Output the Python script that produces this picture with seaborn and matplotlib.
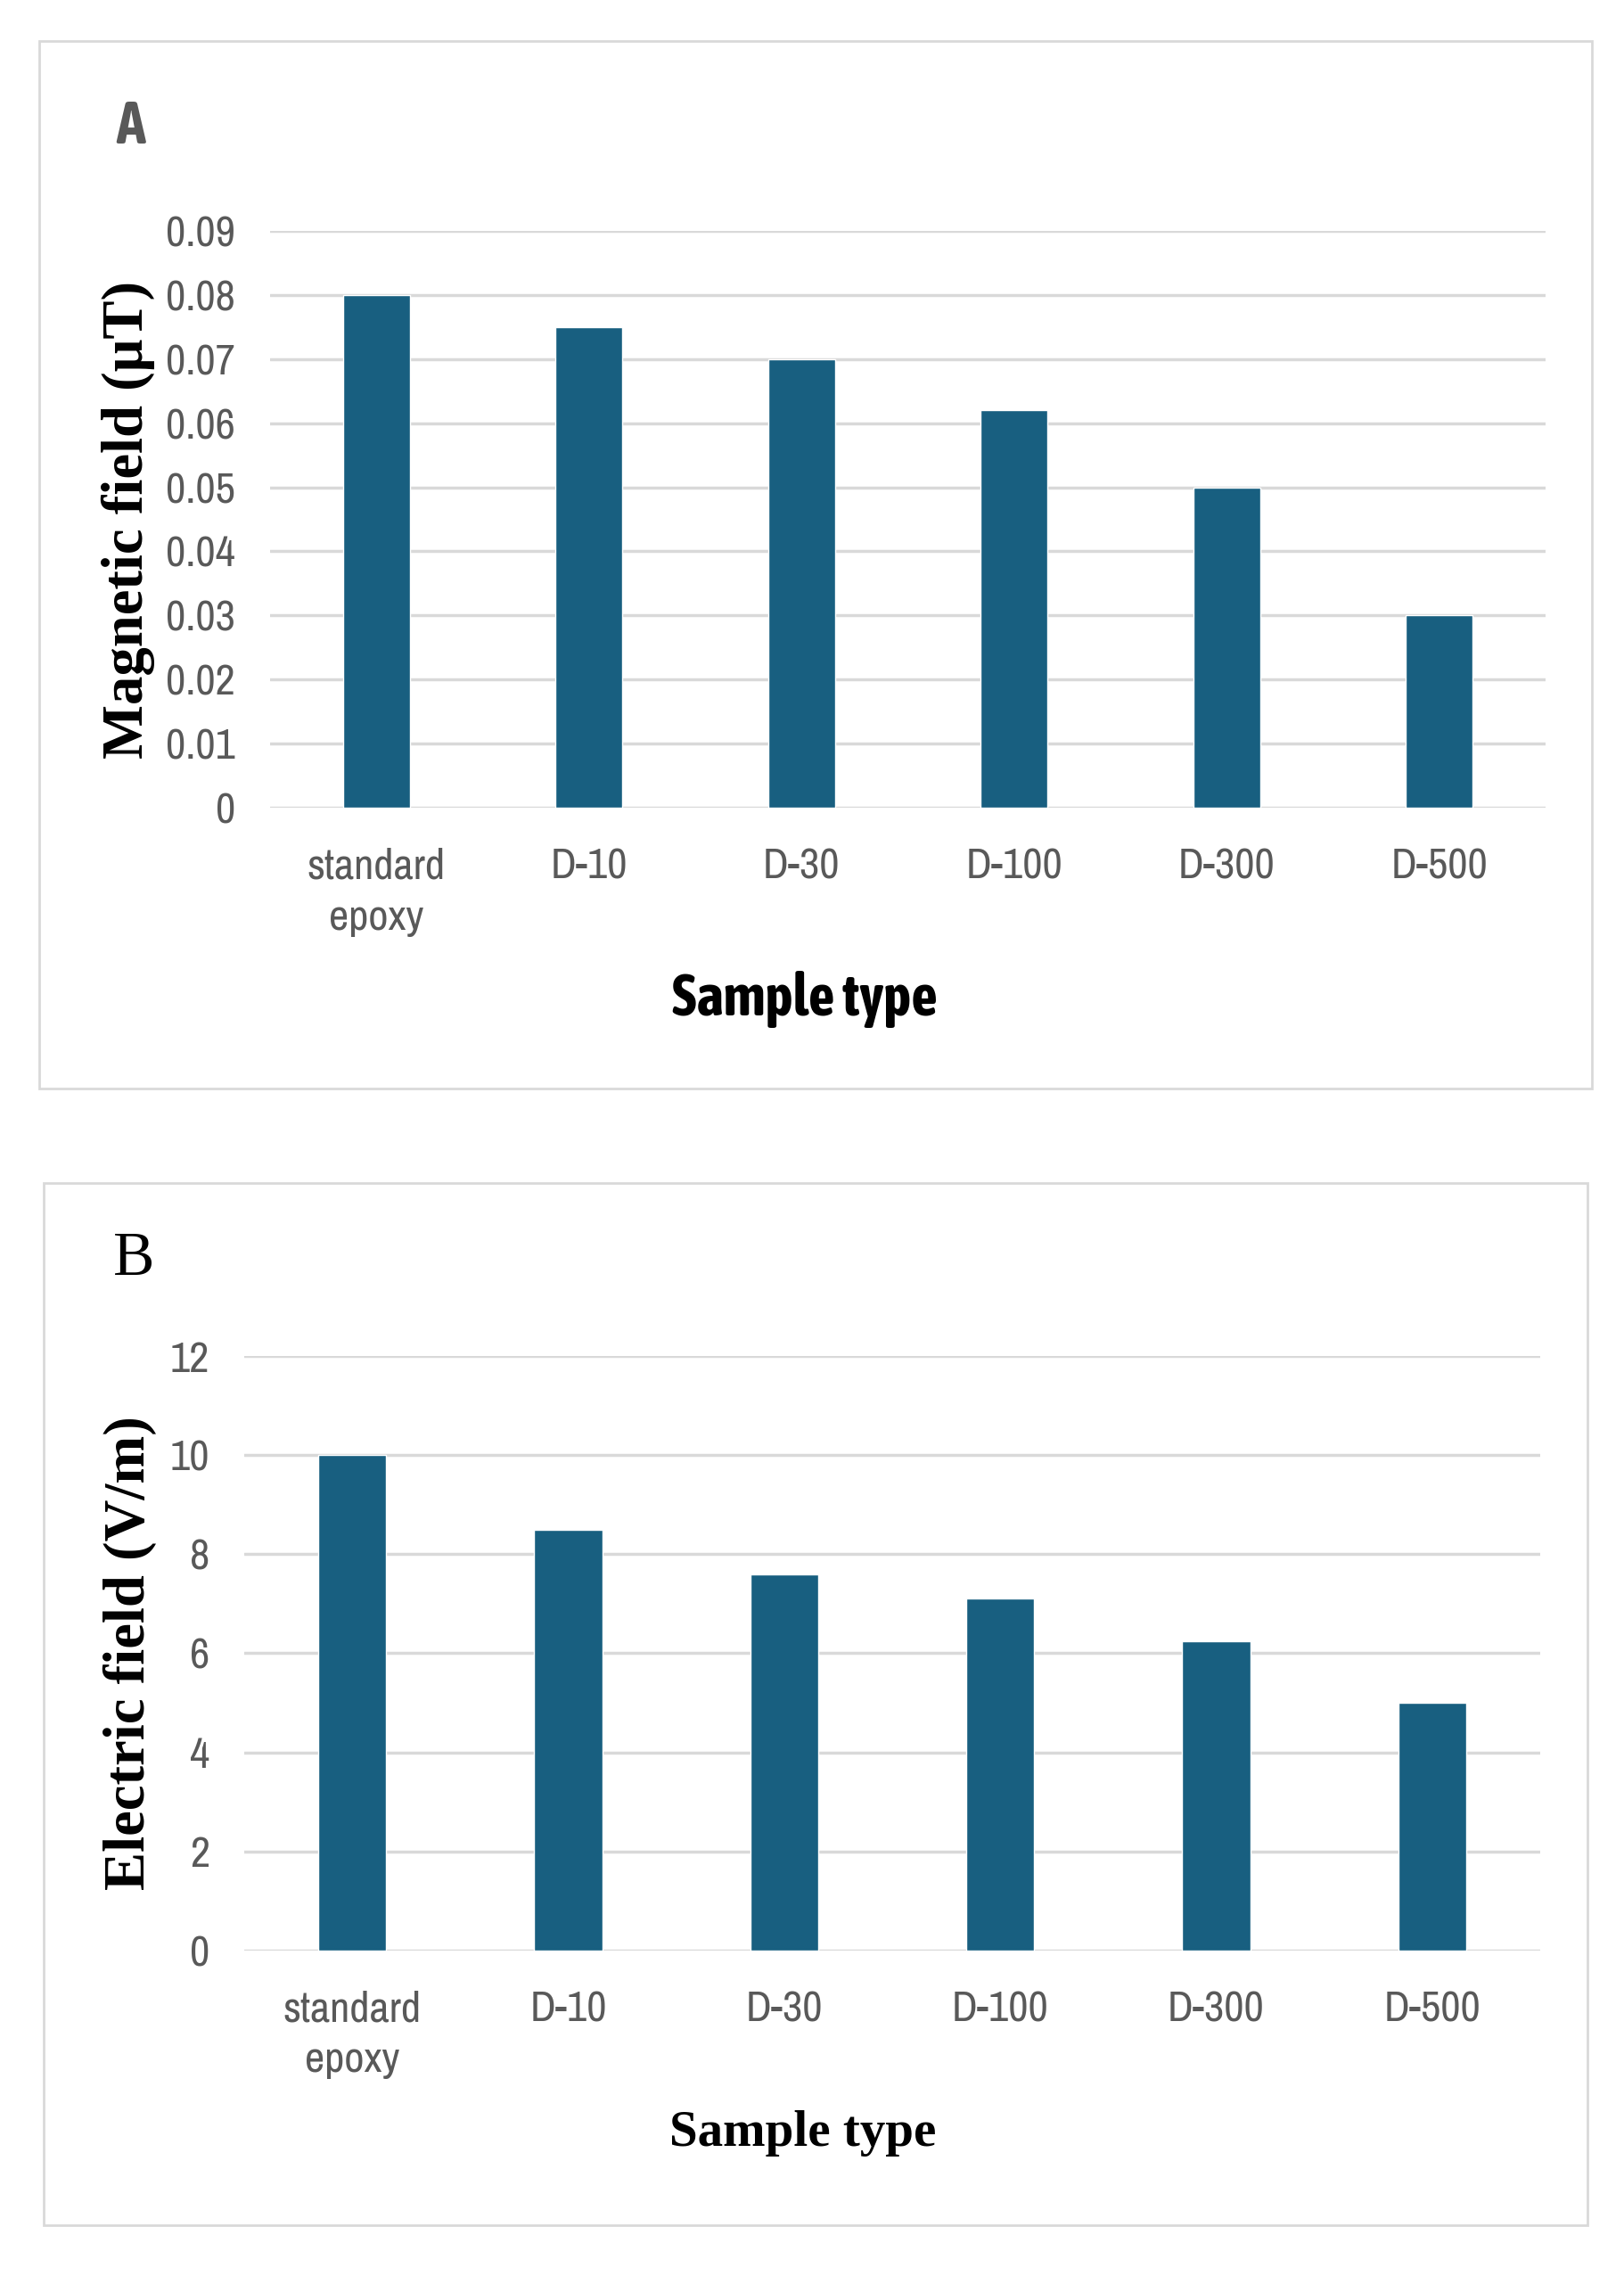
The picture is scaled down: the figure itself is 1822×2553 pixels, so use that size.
import matplotlib
matplotlib.use("Agg")
import matplotlib.pyplot as plt
import matplotlib.patheffects as pe
import seaborn as sns
from matplotlib import font_manager
from matplotlib.patches import Rectangle

# ---------------- Data ----------------
samples = ["standard\nepoxy", "D-10", "D-30", "D-100", "D-300", "D-500"]
magnetic_field = [0.080, 0.075, 0.070, 0.062, 0.050, 0.030]
electric_field = [10.0, 8.5, 7.6, 7.1, 6.25, 5.0]
magnetic_ticks = [0, 0.01, 0.02, 0.03, 0.04, 0.05, 0.06, 0.07, 0.08, 0.09]
magnetic_tick_labels = ["0", "0.01", "0.02", "0.03", "0.04", "0.05", "0.06", "0.07", "0.08", "0.09"]
electric_ticks = [0, 2, 4, 6, 8, 10, 12]

BAR_COLOR = "#185F80"
GRID_COLOR = "#D9D9D9"
TICK_COLOR = "#595959"


def is_narrow(name):
    return "Narrow" in name or "Condensed" in name


def weight_num(w):
    if isinstance(w, str):
        return {"bold": 700, "semibold": 600, "demibold": 600, "extra bold": 800,
                "heavy": 900, "black": 900}.get(w, 400)
    return w


# pick a condensed sans if one is installed, else Roboto
fonts = font_manager.fontManager.ttflist
narrow = sorted({f.name for f in fonts if is_narrow(f.name)})
bold_faces = [f for f in fonts if is_narrow(f.name) and weight_num(f.weight) >= 600]
bold_faces.sort(key=lambda f: (abs(weight_num(f.weight) - 700), f.name))
NARROW = narrow[:1] + ["Roboto", "DejaVu Sans"]
NARROW_BOLD = [f.name for f in bold_faces[:1]] + NARROW
# fake a heavier stroke if no bold condensed face exists
BOLD_FX = [] if bold_faces else [pe.withStroke(linewidth=2.2, foreground="black")]
SERIF = ["Liberation Serif", "DejaVu Serif"]

sns.set_style("white")

fig = plt.figure(figsize=(18.22, 25.53), dpi=100)

# panel borders
for x0, y0, x1, y1 in [(0.0241, 0.5217, 0.9802, 0.982), (0.0269, 0.0223, 0.9775, 0.4802)]:
    fig.patches.append(Rectangle((x0, y0), x1 - x0, y1 - y0, transform=fig.transFigure,
                                 fill=False, edgecolor="#D9D9D9", linewidth=2.0))


def draw_panel(ax, values, ticks, tick_labels, ylabel, ylab_x):
    sns.barplot(x=samples, y=values, color=BAR_COLOR, saturation=1, width=0.315, ax=ax)
    ax.set_xlim(-0.5, len(samples) - 0.5)
    ax.set_ylim(ticks[0], ticks[-1])
    ax.set_yticks(ticks)
    ax.set_yticklabels(tick_labels)
    ax.set_axisbelow(True)
    ax.yaxis.grid(True, color=GRID_COLOR, linewidth=2.5)
    ax.xaxis.grid(False)
    sns.despine(ax=ax, left=True, bottom=True)
    ax.tick_params(axis="both", length=0, labelsize=35, labelcolor=TICK_COLOR)
    ax.tick_params(axis="y", pad=28)
    ax.tick_params(axis="x", pad=32)
    for lab in ax.get_xticklabels() + ax.get_yticklabels():
        lab.set_family(NARROW)
        lab.set_linespacing(1.4)
    ax.set_ylabel(ylabel, family=SERIF, fontweight="bold", fontsize=46.5, color="black")
    ax.yaxis.set_label_coords(ylab_x, 0.5)


# ---------------- Panel A ----------------
ax_a = fig.add_axes([0.1663, 0.6451, 0.7854, 0.2535])
draw_panel(ax_a, magnetic_field, magnetic_ticks, magnetic_tick_labels,
           "Magnetic field (\u03bcT)", -0.090)
ax_a.set_xlabel("Sample type", family=NARROW_BOLD, fontweight="bold", fontsize=47,
                color="black", path_effects=BOLD_FX)
ax_a.xaxis.set_label_coords(0.419, -0.283)
fig.text(0.0806, 0.944, "A", family=NARROW_BOLD, fontweight="bold", fontsize=48,
         color=TICK_COLOR, ha="center", va="center",
         path_effects=[pe.withStroke(linewidth=2.2, foreground=TICK_COLOR)] if BOLD_FX else [])

# ---------------- Panel B ----------------
ax_b = fig.add_axes([0.1504, 0.1430, 0.7980, 0.2612])
draw_panel(ax_b, electric_field, electric_ticks, [str(t) for t in electric_ticks],
           "Electric field (V/m)", -0.0675)
ax_b.set_xlabel("Sample type", family=SERIF, fontweight="bold", fontsize=41, color="black")
ax_b.xaxis.set_label_coords(0.431, -0.268)
fig.text(0.0823, 0.4465, "B", family=SERIF, fontsize=50, color="black",
         ha="center", va="center")

fig.savefig("out.png", dpi=100, facecolor="white")
